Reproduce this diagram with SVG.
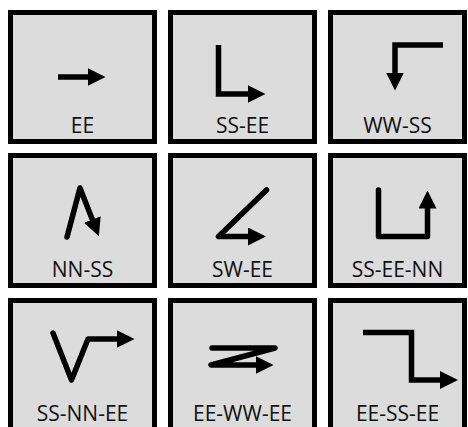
<svg xmlns="http://www.w3.org/2000/svg" width="468" height="427" viewBox="0 0 468 427">
<style>
.box{fill:#dcdcdc;stroke:#000;stroke-width:5}
.lbl{font-family:"Open Sans","DejaVu Sans",sans-serif;font-size:21px;fill:#111;text-anchor:middle}
.ar{fill:none;stroke:#000;stroke-width:5.5;stroke-linejoin:miter;marker-end:url(#head)}
.rd{stroke-linejoin:round;stroke-linecap:round}
</style>
<defs>
<marker id="head" markerUnits="userSpaceOnUse" markerWidth="18" markerHeight="18" viewBox="0 0 18 18" refX="0.5" refY="9" orient="auto">
<path d="M0,0 L18,9 L0,18 z" fill="#000"/>
</marker>
</defs>
<g id="n-ee"><rect class="box" x="10.5" y="12.5" width="144" height="129"/><text class="lbl" x="82.5" y="133">EE</text></g>
<g id="n-ss-ee"><rect class="box" x="170.5" y="12.5" width="144" height="129"/><text class="lbl" x="242.5" y="133">SS-EE</text></g>
<g id="n-ww-ss"><rect class="box" x="330.5" y="12.5" width="134" height="129"/><text class="lbl" x="397.5" y="133">WW-SS</text></g>
<g id="n-nn-ss"><rect class="box" x="10.5" y="155.5" width="144" height="130"/><text class="lbl" x="82.5" y="277">NN-SS</text></g>
<g id="n-sw-ee"><rect class="box" x="170.5" y="155.5" width="144" height="130"/><text class="lbl" x="242.5" y="277">SW-EE</text></g>
<g id="n-ss-ee-nn"><rect class="box" x="330.5" y="155.5" width="134" height="130"/><text class="lbl" x="397.5" y="277">SS-EE-NN</text></g>
<g id="n-ss-nn-ee"><rect class="box" x="10.5" y="300.5" width="144" height="140"/><text class="lbl" x="82.5" y="421">SS-NN-EE</text></g>
<g id="n-ee-ww-ee"><rect class="box" x="170.5" y="300.5" width="144" height="140"/><text class="lbl" x="242.5" y="421">EE-WW-EE</text></g>
<g id="n-ee-ss-ee"><rect class="box" x="330.5" y="300.5" width="134" height="140"/><text class="lbl" x="397.5" y="421">EE-SS-EE</text></g>
<g id="connectors">
<path class="ar" d="M58,77 H88"/>
<path class="ar" d="M218.5,45 V94 H248"/>
<path class="ar" d="M443,45 H395 V73"/>
<path class="ar rd" d="M67,237 L80,188 L92.5,220"/>
<path class="ar rd" d="M266.5,190 L218.5,236.5 H248.5"/>
<path class="ar rd" d="M378.5,190 V236.5 H427.5 V208"/>
<path class="ar rd" d="M53,333 L71.5,380 L88,339 H117"/>
<path class="ar rd" d="M212,348 H275 L211,365 H256"/>
<path class="ar" d="M363,332.5 H411.5 V380 H440.5"/>
</g>
</svg>
